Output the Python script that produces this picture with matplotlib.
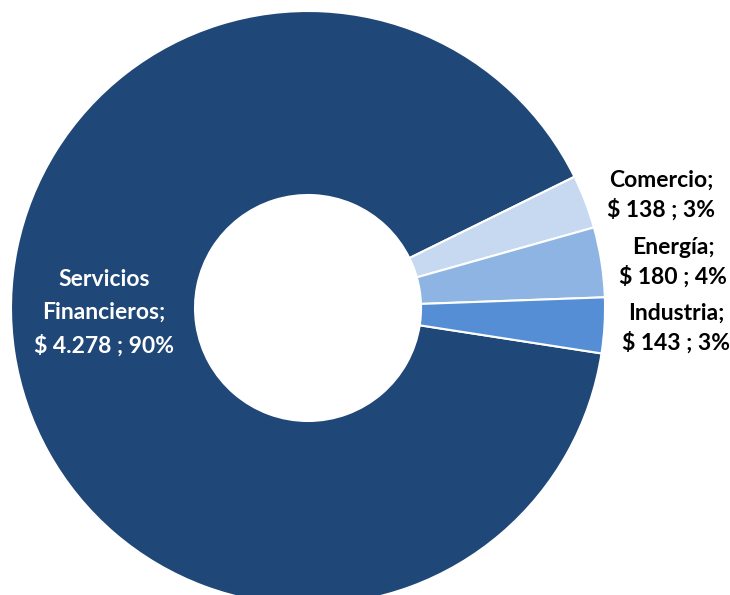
import matplotlib.pyplot as plt

# Data
sectores = ['Servicios Financieros', 'Comercio', 'Energía', 'Industria']
montos = [4278, 138, 180, 143]
colores = ['#1F4778', '#C6D9F1', '#8DB4E2', '#558ED5']
explotar = [0, 0.024, 0.024, 0.024]

total = sum(montos)


def fmt_monto(v):
    return f"{v:,}".replace(',', '.')


plt.rcParams['font.family'] = ['Lato', 'DejaVu Sans']

fig = plt.figure(figsize=(7.3, 5.95), dpi=100)
ax = fig.add_axes([0, 0, 1, 1])

radio = 297
centro = (308, 595 - 308)

ax.pie(montos, colors=colores, explode=explotar, startangle=351.2,
       counterclock=False, radius=radio, center=centro,
       wedgeprops=dict(width=184, edgecolor='white', linewidth=1.5),
       frame=True)
ax.set_xlim(0, 730)
ax.set_ylim(0, 595)
ax.set_aspect('equal')
ax.axis('off')

# Labels
etiquetas = []
for s, v in zip(sectores, montos):
    pct = round(v / total * 100)
    nombre = s.replace(' ', '\n') if s == 'Servicios Financieros' else s
    etiquetas.append(f"{nombre};\n$ {fmt_monto(v)} ; {pct}%")

pos_etiquetas = [(104, 313), (661, 195), (673, 262), (676, 328)]
for i, (txt, (x, y)) in enumerate(zip(etiquetas, pos_etiquetas)):
    ax.text(x, 595 - y, txt, ha='center', va='center', fontsize=16.5,
            fontweight='bold', color='white' if i == 0 else 'black',
            linespacing=1.68 if i == 0 else 1.42)

fig.savefig('out.png', dpi=100)
